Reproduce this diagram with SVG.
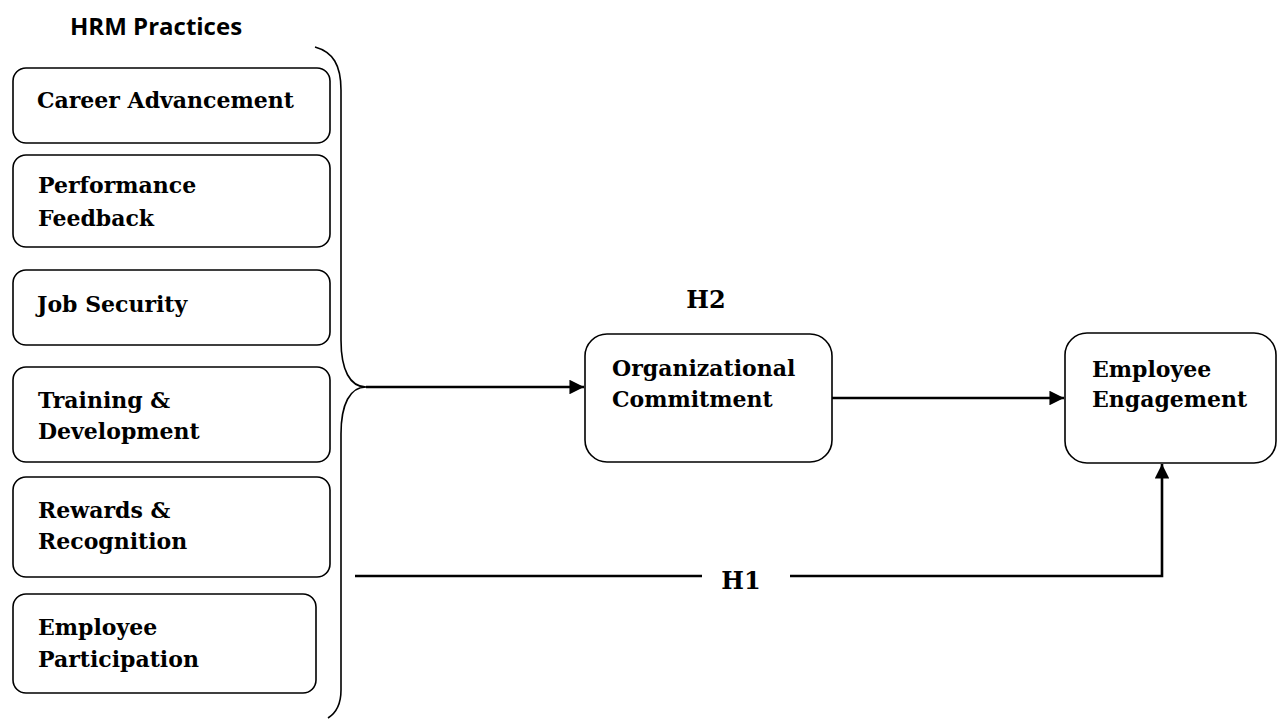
<svg xmlns="http://www.w3.org/2000/svg" width="1277" height="719" viewBox="0 0 1277 719">
<style>
.box{fill:#fff;stroke:#000;stroke-width:1.6}
.t{font-family:"DejaVu Serif","Liberation Serif",serif;font-weight:bold;font-size:22px;fill:#000}
.hh{font-family:"DejaVu Serif","Liberation Serif",serif;font-weight:bold;font-size:24px;fill:#000}
.h{font-family:"Open Sans","Liberation Sans",sans-serif;font-weight:bold;font-size:24px;fill:#000}
.ln{fill:none;stroke:#000;stroke-width:2.6}
.br{fill:none;stroke:#000;stroke-width:1.6}
</style>
<defs>
<marker id="ah" viewBox="0 0 10 10" refX="10" refY="5" markerWidth="6.5" markerHeight="5.6" markerUnits="strokeWidth" orient="auto">
<path d="M0,0 L10,5 L0,10 z" fill="#000"/>
</marker>
</defs>
<text class="h" x="70" y="35">HRM Practices</text>
<g id="career"><rect class="box" x="13" y="68" width="317" height="75" rx="13"/><text class="t" x="37" y="108">Career Advancement</text></g>
<g id="performance"><rect class="box" x="13" y="155" width="317" height="92" rx="13"/><text class="t" x="38" y="193">Performance</text><text class="t" x="38" y="226">Feedback</text></g>
<g id="jobsecurity"><rect class="box" x="13" y="270" width="317" height="75" rx="13"/><text class="t" x="37" y="312">Job Security</text></g>
<g id="training"><rect class="box" x="13" y="367" width="317" height="95" rx="13"/><text class="t" x="38" y="408">Training &amp;</text><text class="t" x="38" y="439">Development</text></g>
<g id="rewards"><rect class="box" x="13" y="477" width="317" height="100" rx="13"/><text class="t" x="38" y="518">Rewards &amp;</text><text class="t" x="38" y="549">Recognition</text></g>
<g id="participation"><rect class="box" x="13" y="594" width="303" height="99" rx="13"/><text class="t" x="38" y="635">Employee</text><text class="t" x="38" y="667">Participation</text></g>
<g id="brace"><path class="br" d="M315,47 C333,52 341,65 341,90 L341,340 C341,370 350,387 366,387 C350,387 341,404 341,434 L341,690 C341,704 336,713 328,718"/></g>
<g id="org"><rect class="box" x="585" y="334" width="247" height="128" rx="22"/><text class="t" x="612" y="376">Organizational</text><text class="t" x="612" y="407">Commitment</text></g>
<g id="engagement"><rect class="box" x="1065" y="333" width="211" height="130" rx="22"/><text class="t" x="1092" y="377">Employee</text><text class="t" x="1092" y="407">Engagement</text></g>
<g id="connectors">
<line class="ln" x1="366" y1="387" x2="584" y2="387" marker-end="url(#ah)"/>
<line class="ln" x1="832" y1="398" x2="1064" y2="398" marker-end="url(#ah)"/>
<line class="ln" x1="355" y1="576" x2="702" y2="576"/>
<polyline class="ln" points="790,576 1162,576 1162,464" marker-end="url(#ah)"/>
</g>
<text class="hh" x="706" y="308" text-anchor="middle">H2</text>
<text class="hh" x="741" y="589" text-anchor="middle">H1</text>
</svg>
